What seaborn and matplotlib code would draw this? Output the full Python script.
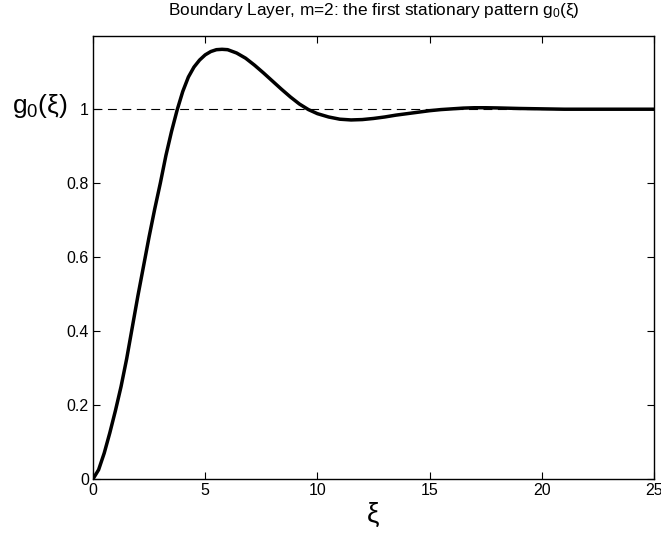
import numpy as np
import pandas as pd
import matplotlib
matplotlib.use("Agg")
import matplotlib.pyplot as plt
import seaborn as sns

# values
xi = [0.0, 0.25, 0.5, 0.75, 1.0, 1.25, 1.5, 1.75, 2.0, 2.25, 2.5, 2.75, 3.0,
      3.25, 3.5, 3.75, 4.0, 4.25, 4.5, 4.75, 5.0, 5.25, 5.5, 5.75, 6.0, 6.4,
      6.8, 7.2, 7.6, 8.0, 8.4, 8.8, 9.2, 9.6, 10.0, 10.5, 11.0, 11.5, 12.0,
      12.5, 13.0, 13.5, 14.0, 14.5, 15.0, 15.5, 16.0, 16.5, 17.0, 17.5, 18.0,
      19.0, 20.0, 21.0, 22.0, 25.0]
g0 = [0.0, 0.025, 0.07, 0.125, 0.185, 0.25, 0.325, 0.41, 0.495, 0.575, 0.655,
      0.73, 0.80, 0.875, 0.94, 0.998, 1.048, 1.087, 1.114, 1.133, 1.147, 1.156,
      1.161, 1.162, 1.161, 1.152, 1.138, 1.119, 1.098, 1.076, 1.054, 1.033,
      1.014, 0.999, 0.988, 0.979, 0.973, 0.971, 0.972, 0.975, 0.979, 0.984,
      0.988, 0.992, 0.996, 0.999, 1.001, 1.003, 1.004, 1.004, 1.0035, 1.002,
      1.001, 1.0, 1.0, 1.0]

x_ticks = [0, 5, 10, 15, 20, 25]
y_ticks = [0, 0.2, 0.4, 0.6, 0.8, 1.0]
y_tick_labels = ["0", "0.2", "0.4", "0.6", "0.8", "1"]

sns.set_theme(style="white")
plt.rcParams["font.family"] = ["Liberation Sans", "DejaVu Sans"]
plt.rcParams["mathtext.fontset"] = "custom"
plt.rcParams["mathtext.rm"] = "Liberation Sans"
plt.rcParams["mathtext.it"] = "Liberation Sans"

df = pd.DataFrame({"xi": xi, "g0": g0})

fig = plt.figure(figsize=(6.61, 5.37), dpi=100)
ax = fig.add_axes([93 / 661, 1 - 479 / 537, (654 - 93) / 661, (479 - 36) / 537])

ax.axhline(1.0, color="black", lw=0.8, ls=(0, (8, 5)), zorder=1)
sns.lineplot(data=df, x="xi", y="g0", ax=ax, color="black", lw=2.5, zorder=2)

ax.set_xlim(0, 25)
ax.set_ylim(0, 1.198)
ax.set_xticks(x_ticks)
ax.set_xticklabels([str(t) for t in x_ticks])
ax.set_yticks(y_ticks)
ax.set_yticklabels(y_tick_labels)
ax.tick_params(direction="in", length=5, width=0.8, color="black",
               labelsize=11.5, labelcolor="black", top=True, right=True,
               bottom=True, left=True, pad=3)
for s in ax.spines.values():
    s.set_color("black")
    s.set_linewidth(1.0)

ax.set_xlabel("ξ", fontsize=20, color="black", labelpad=3)
ax.set_ylabel("g$_0$(ξ)", fontsize=19, color="black", rotation=0, va="center")
ax.yaxis.set_label_coords(-0.0945, 0.842)
ax.set_title("Boundary Layer, m=2: the first stationary pattern g$_0$(ξ)",
             fontsize=12.4, color="black", pad=15)

fig.savefig("out.png", dpi=100)
